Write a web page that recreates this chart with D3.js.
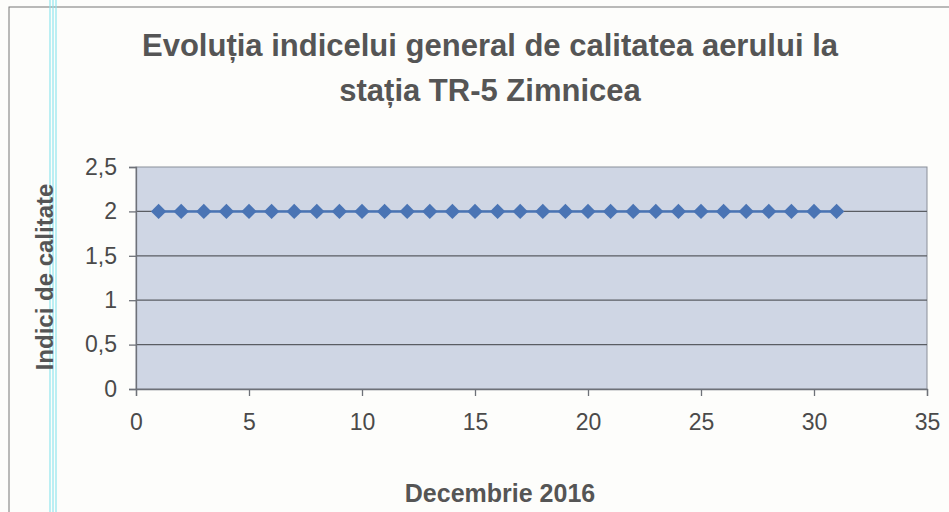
<!DOCTYPE html>
<html>
<head>
<meta charset="utf-8">
<script src="https://cdn.jsdelivr.net/npm/d3@7"></script>
<style>
  body { margin: 0; background: #fdfdfb; }
  svg { display: block; font-family: "Liberation Sans", Arial, sans-serif; }
</style>
</head>
<body>
<div id="chart"></div>
<script>
// zilele din decembrie 2016 si indicele general
const days = d3.range(1, 32);
const indexValues = [2, 2, 2, 2, 2, 2, 2, 2, 2, 2, 2, 2, 2, 2, 2, 2, 2, 2, 2, 2, 2, 2, 2, 2, 2, 2, 2, 2, 2, 2, 2];
const xTicks = [0, 5, 10, 15, 20, 25, 30, 35];
const yTicks = [0, 0.5, 1, 1.5, 2, 2.5];
const titleLines = ['Evoluția indicelui general de calitatea aerului la', 'stația TR-5 Zimnicea'];

const width = 949, height = 512;
const margin = { top: 167, right: 22, bottom: 123, left: 136 };

const svg = d3.select('#chart')
    .append('svg')
    .attr('width', width)
    .attr('height', height);

// chenarul graficului
svg.append('rect')
    .attr('x', 9).attr('y', 7)
    .attr('width', width + 10).attr('height', height + 10)
    .attr('fill', 'none')
    .attr('stroke', '#777')
    .attr('stroke-width', 1);

// dungile cyan din scanare
[50, 53, 56].forEach(px => {
    svg.append('line')
        .attr('x1', px).attr('x2', px)
        .attr('y1', 0).attr('y2', height)
        .attr('stroke', '#8fe6ef')
        .attr('stroke-width', 1.5)
        .attr('opacity', 0.8);
});

const x = d3.scaleLinear()
    .domain([0, 35])
    .range([margin.left, width - margin.right]);

const y = d3.scaleLinear()
    .domain([0, 2.5])
    .range([height - margin.bottom, margin.top]);

// fundalul zonei de desenare
svg.append('rect')
    .attr('x', x(0)).attr('y', y(2.5))
    .attr('width', x(35) - x(0))
    .attr('height', y(0) - y(2.5))
    .attr('fill', '#cfd6e4')
    .attr('stroke', '#8a8f99')
    .attr('stroke-width', 1);

// liniile de grila
svg.append('g')
    .selectAll('line')
    .data(yTicks.filter(d => d > 0 && d < 2.5))
    .join('line')
    .attr('x1', x(0)).attr('x2', x(35))
    .attr('y1', d => y(d)).attr('y2', d => y(d))
    .attr('stroke', '#5a5d63')
    .attr('stroke-width', 1.2);

const fmt = d => String(d).replace('.', ',');

const xAxis = svg.append('g')
    .attr('transform', `translate(0,${y(0)})`)
    .call(d3.axisBottom(x).tickValues(xTicks).tickFormat(fmt).tickSize(7).tickPadding(18));

const yAxis = svg.append('g')
    .attr('transform', `translate(${x(0)},0)`)
    .call(d3.axisLeft(y).tickValues(yTicks).tickFormat(fmt).tickSize(7).tickPadding(12));

[xAxis, yAxis].forEach(g => {
    g.select('.domain').attr('stroke', '#6e7178').attr('stroke-width', 1.3);
    g.selectAll('.tick line').attr('stroke', '#6e7178').attr('stroke-width', 1.3);
    g.selectAll('.tick text')
        .attr('fill', '#4a4a4a')
        .style('font-size', '23px')
        .style('font-family', '"Liberation Sans", Arial, sans-serif');
});

// seria
const line = d3.line()
    .x((d, i) => x(days[i]))
    .y(d => y(d));

svg.append('path')
    .datum(indexValues)
    .attr('d', line)
    .attr('fill', 'none')
    .attr('stroke', '#4a74b4')
    .attr('stroke-width', 2.5);

svg.append('g')
    .selectAll('path')
    .data(indexValues)
    .join('path')
    .attr('transform', (d, i) => `translate(${x(days[i])},${y(d)})`)
    .attr('d', d3.symbol().type(d3.symbolDiamond2).size(150))
    .attr('fill', '#4a74b4');

// titlul
svg.append('g')
    .selectAll('text')
    .data(titleLines)
    .join('text')
    .attr('x', 490)
    .attr('y', (d, i) => 56 + i * 45)
    .attr('text-anchor', 'middle')
    .attr('fill', '#555')
    .style('font-size', '31px')
    .style('font-weight', 'bold')
    .text(d => d);

svg.append('text')
    .attr('x', 500)
    .attr('y', 502)
    .attr('text-anchor', 'middle')
    .attr('fill', '#555')
    .style('font-size', '25px')
    .style('font-weight', 'bold')
    .text('Decembrie 2016');

svg.append('text')
    .attr('transform', `translate(53,277) rotate(-90)`)
    .attr('text-anchor', 'middle')
    .attr('fill', '#555')
    .style('font-size', '24px')
    .style('font-weight', 'bold')
    .text('Indici de calitate');
</script>
</body>
</html>
